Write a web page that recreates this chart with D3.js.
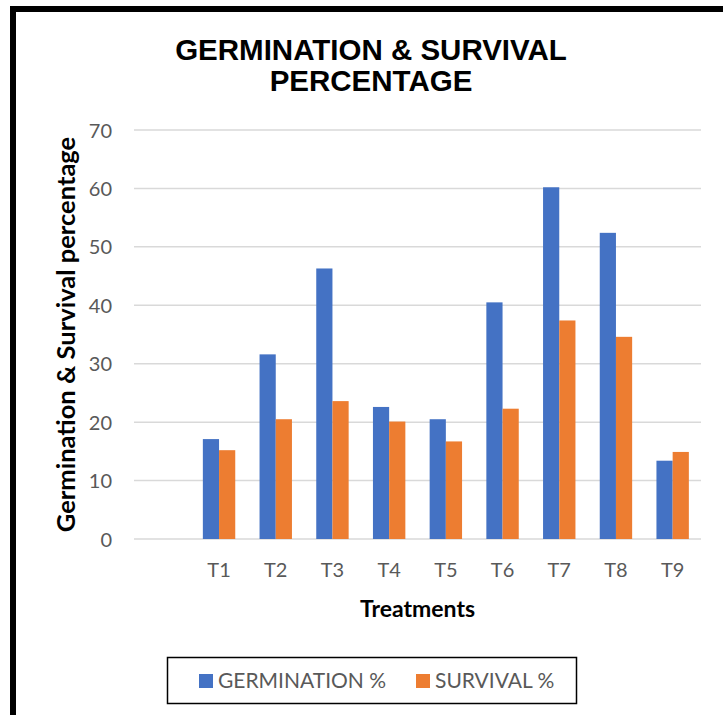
<!DOCTYPE html>
<html>
<head>
<meta charset="utf-8">
<script src="https://cdn.jsdelivr.net/npm/d3@7"></script>
<style>
  html, body { margin: 0; padding: 0; background: #fff; }
  svg { display: block; }
</style>
</head>
<body>
<svg id="chart" width="723" height="715"></svg>
<script>
// ---- data ----
const categories = ["", "T1", "T2", "T3", "T4", "T5", "T6", "T7", "T8", "T9"];
const germination = [null, 17.1, 31.6, 46.3, 22.6, 20.5, 40.5, 60.2, 52.4, 13.4];
const survival    = [null, 15.2, 20.5, 23.6, 20.1, 16.7, 22.3, 37.4, 34.6, 14.9];
const seriesNames = ["GERMINATION %", "SURVIVAL %"];
const seriesColors = ["#4472C4", "#ED7D31"];
const yTicks = [0, 10, 20, 30, 40, 50, 60, 70];

const svg = d3.select("#chart");
const W = 723, H = 715;
const plot = { left: 134, right: 701, top: 130, bottom: 539 };
const txtColor = "#595959";
const font = "Lato, 'Open Sans', sans-serif";

svg.append("rect").attr("width", W).attr("height", H).attr("fill", "#fff");

// outer frame (left and top edges visible)
svg.append("path")
  .attr("d", `M13,${H + 5} L13,9 L${W + 5},9`)
  .attr("fill", "none").attr("stroke", "#000").attr("stroke-width", 6);

// title
const title = svg.append("text")
  .attr("text-anchor", "middle")
  .attr("font-family", "'Liberation Sans', Arial, sans-serif")
  .attr("font-weight", "bold").attr("font-size", 29.5).attr("fill", "#000");
title.append("tspan").attr("x", 371).attr("y", 60).text("GERMINATION & SURVIVAL");
title.append("tspan").attr("x", 371).attr("y", 91).text("PERCENTAGE");

// scales
const x0 = d3.scaleBand().domain(categories).range([plot.left, plot.right]).paddingInner(0).paddingOuter(0);
const bw = x0.bandwidth();
const groupW = bw * 2 / 3.5;
const x1 = d3.scaleBand().domain(seriesNames).range([(bw - groupW) / 2, (bw + groupW) / 2]).padding(0);
const y = d3.scaleLinear().domain([0, 70]).range([plot.bottom, plot.top]);

// gridlines
svg.append("g").selectAll("line").data(yTicks).join("line")
  .attr("x1", plot.left).attr("x2", plot.right)
  .attr("y1", d => y(d)).attr("y2", d => y(d))
  .attr("stroke", "#d9d9d9").attr("stroke-width", 1.5);

// y axis labels
const yAxis = d3.axisLeft(y).tickValues(yTicks).tickSize(0).tickPadding(0);
const gy = svg.append("g").attr("transform", `translate(${plot.left - 22},0)`).call(yAxis);
gy.select(".domain").remove();
gy.selectAll("text").attr("font-family", font).attr("font-size", 20).attr("fill", txtColor).attr("dy", "0.35em");

// x axis labels
const xAxis = d3.axisBottom(x0).tickSize(0).tickPadding(0);
const gx = svg.append("g").attr("transform", `translate(0,${plot.bottom + 24})`).call(xAxis);
gx.select(".domain").remove();
gx.selectAll("text").attr("font-family", font).attr("font-size", 20).attr("fill", txtColor);

// bars
const seriesData = [germination, survival];
seriesNames.forEach((name, si) => {
  svg.append("g").selectAll("rect")
    .data(categories.map((c, i) => ({ c, v: seriesData[si][i] })).filter(d => d.v != null))
    .join("rect")
    .attr("x", d => x0(d.c) + x1(name))
    .attr("width", x1.bandwidth())
    .attr("y", d => y(d.v))
    .attr("height", d => y(0) - y(d.v))
    .attr("fill", seriesColors[si]);
});

// axis titles
svg.append("text")
  .attr("x", (plot.left + plot.right) / 2).attr("y", 617)
  .attr("text-anchor", "middle")
  .attr("font-family", font).attr("font-weight", "bold").attr("font-size", 23).attr("fill", "#000")
  .text("Treatments");

svg.append("text")
  .attr("transform", `translate(75,${(plot.top + plot.bottom) / 2}) rotate(-90)`)
  .attr("text-anchor", "middle")
  .attr("font-family", font).attr("font-weight", "bold").attr("font-size", 25.5).attr("fill", "#000")
  .text("Germination & Survival percentage");

// legend
const lg = svg.append("g");
lg.append("rect").attr("x", 167.5).attr("y", 657.5).attr("width", 409).attr("height", 46)
  .attr("fill", "#fff").attr("stroke", "#000").attr("stroke-width", 1.5);
const legendX = [199, 416];
seriesNames.forEach((name, i) => {
  lg.append("rect").attr("x", legendX[i]).attr("y", 674).attr("width", 14).attr("height", 14).attr("fill", seriesColors[i]);
  lg.append("text").attr("x", legendX[i] + 19).attr("y", 688)
    .attr("font-family", font).attr("font-size", 21).attr("fill", txtColor).text(name);
});
</script>
</body>
</html>
